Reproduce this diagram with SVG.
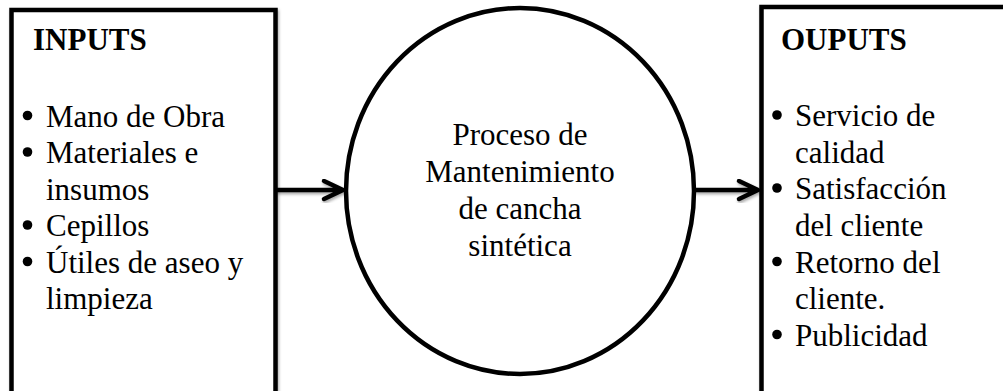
<svg xmlns="http://www.w3.org/2000/svg" width="1003" height="391" viewBox="0 0 1003 391">
<style>
.box{fill:#fff;stroke:#000;stroke-width:4.5}
.t{font-family:"Liberation Serif","Times New Roman",serif;font-size:31px;fill:#000}
.h{font-weight:bold}
.c{text-anchor:middle}
.conn{fill:none;stroke:#000;stroke-width:4.5;stroke-linecap:round;stroke-linejoin:round}
</style>
<defs>
<filter id="sh" x="-10%" y="-10%" width="120%" height="130%">
<feDropShadow dx="1" dy="2" stdDeviation="1.5" flood-color="#000" flood-opacity="0.35"/>
</filter>
</defs>
<rect width="1003" height="391" fill="#fff"/>
<g id="inputs">
<rect class="box" x="11.5" y="10" width="264" height="400" filter="url(#sh)"/>
<text class="t h" x="33" y="50">INPUTS</text>
<g fill="#000">
<circle cx="27.5" cy="115.5" r="4.8"/>
<circle cx="27.5" cy="152" r="4.8"/>
<circle cx="27.5" cy="225" r="4.8"/>
<circle cx="27.5" cy="261.5" r="4.8"/>
</g>
<text class="t" x="46" y="126.5">Mano de Obra</text>
<text class="t" x="46" y="163">Materiales e</text>
<text class="t" x="46" y="199.5">insumos</text>
<text class="t" x="46" y="236">Cepillos</text>
<text class="t" x="46" y="272.5">Útiles de aseo y</text>
<text class="t" x="46" y="309">limpieza</text>
</g>
<g id="proceso">
<ellipse cx="520" cy="191" rx="174" ry="183" fill="#fff" stroke="#000" stroke-width="4.5"/>
<text class="t c" x="520" y="145">Proceso de</text>
<text class="t c" x="520" y="182">Mantenimiento</text>
<text class="t c" x="520" y="219">de cancha</text>
<text class="t c" x="520" y="256">sintética</text>
</g>
<g id="outputs">
<rect class="box" x="761.5" y="7" width="260" height="400" filter="url(#sh)"/>
<text class="t h" x="781" y="50">OUPUTS</text>
<g fill="#000">
<circle cx="777" cy="115" r="4.8"/>
<circle cx="777" cy="188" r="4.8"/>
<circle cx="777" cy="261.5" r="4.8"/>
<circle cx="777" cy="334.5" r="4.8"/>
</g>
<text class="t" x="795" y="126">Servicio de</text>
<text class="t" x="795" y="162.5">calidad</text>
<text class="t" x="795" y="199">Satisfacción</text>
<text class="t" x="795" y="235.5">del cliente</text>
<text class="t" x="795" y="272.5">Retorno del</text>
<text class="t" x="795" y="309">cliente.</text>
<text class="t" x="795" y="345.5">Publicidad</text>
</g>
<g id="connectors" filter="url(#sh)">
<path class="conn" d="M277 190 H342 M324 181 L343 190 L324 199"/>
<path class="conn" d="M696 190 H757 M739 181 L758 190 L739 199"/>
</g>
</svg>
